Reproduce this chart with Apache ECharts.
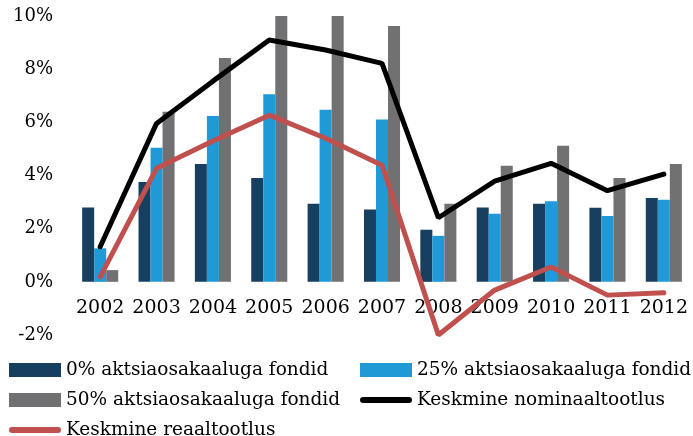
<!DOCTYPE html>
<html>
<head>
<meta charset="utf-8">
<script src="https://cdn.jsdelivr.net/npm/echarts@6/dist/echarts.min.js"></script>
<style>html,body{margin:0;padding:0;background:#fff}#c{width:693px;height:436px}</style>
</head>
<body>
<div id="c"></div>
<script>
var years = ['2002','2003','2004','2005','2006','2007','2008','2009','2010','2011','2012'];
var fund0 = [2.80, 3.76, 4.43, 3.91, 2.94, 2.72, 1.96, 2.80, 2.94, 2.79, 3.15];
var fund25 = [1.26, 5.04, 6.24, 7.06, 6.47, 6.11, 1.73, 2.56, 3.03, 2.48, 3.09];
var fund50 = [0.44, 6.40, 8.42, 10.4, 10.4, 9.62, 2.94, 4.37, 5.12, 3.91, 4.43];
var nominal = [1.32, 5.96, 7.55, 9.10, 8.72, 8.22, 2.41, 3.79, 4.46, 3.43, 4.05];
var real = [0.19, 4.27, 5.30, 6.27, 5.40, 4.39, -2.0, -0.31, 0.56, -0.50, -0.41];
var yTicks = { min: -2, max: 10, step: 2 };
var names = ['0% aktsiaosakaaluga fondid', '25% aktsiaosakaaluga fondid', '50% aktsiaosakaaluga fondid', 'Keskmine nominaaltootlus', 'Keskmine reaaltootlus'];

var font = 'DejaVu Serif';
var lineIcon = 'path://M0,0L0.01,0M0,14L0.01,14M3,4L49,4A3,3 0 0 1 49,10L3,10A3,3 0 0 1 3,4Z';
var chart = echarts.init(document.getElementById('c'));
var legendText = { fontFamily: font, fontSize: 18.5, color: '#000', lineHeight: 20 };
chart.setOption({
  animation: false,
  grid: { left: 72, right: 1, top: 16, bottom: 101 },
  legend: [
    { left: 9, top: 360, height: 100, padding: 0, orient: 'vertical', itemWidth: 52, itemHeight: 14, itemGap: 10,
      textStyle: legendText,
      data: [{ name: names[0], icon: 'rect' }, { name: names[2], icon: 'rect' }, { name: names[4], icon: lineIcon }] },
    { left: 360, top: 360, height: 100, padding: 0, orient: 'vertical', itemWidth: 52, itemHeight: 14, itemGap: 10,
      textStyle: legendText,
      data: [{ name: names[1], icon: 'rect' }, { name: names[3], icon: lineIcon }] }
  ],
  xAxis: {
    type: 'category', data: years, offset: -53,
    axisLine: { show: false, onZero: false }, axisTick: { show: false },
    axisLabel: { fontFamily: font, fontSize: 19, color: '#000', margin: 17, interval: 0 }
  },
  yAxis: {
    type: 'value', min: yTicks.min, max: yTicks.max, interval: yTicks.step,
    splitLine: { show: false }, axisLine: { show: false }, axisTick: { show: false },
    axisLabel: { fontFamily: font, fontSize: 18, color: '#000', margin: 19, formatter: '{value}%' }
  },
  series: [
    { name: names[0], type: 'bar', data: fund0, itemStyle: { color: '#173F5F' }, barGap: '0%', barCategoryGap: '36%' },
    { name: names[1], type: 'bar', data: fund25, itemStyle: { color: '#1F9AD7' } },
    { name: names[2], type: 'bar', data: fund50, itemStyle: { color: '#717174' } },
    { name: names[3], type: 'line', data: nominal, symbol: 'none', z: 5,
      lineStyle: { color: '#000', width: 5, cap: 'round' }, itemStyle: { color: '#000' } },
    { name: names[4], type: 'line', data: real, symbol: 'none', z: 6,
      lineStyle: { color: '#C0504D', width: 5, cap: 'round' }, itemStyle: { color: '#C0504D' } }
  ]
});
</script>
</body>
</html>
